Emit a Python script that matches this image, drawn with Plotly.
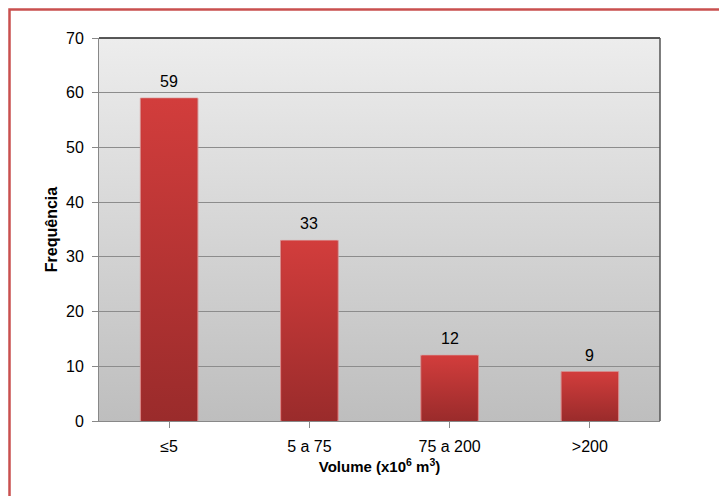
import plotly.graph_objects as go
import base64

categories = ["≤5", "5 a 75", "75 a 200", ">200"]
frequencies = [59, 33, 12, 9]
y_ticks = [0, 10, 20, 30, 40, 50, 60, 70]

BAR_WIDTH = 0.41
FONT = "Liberation Sans, Arial, sans-serif"

def grad_uri(top, bottom):
    svg = (
        '<svg xmlns="http://www.w3.org/2000/svg" width="10" height="100" preserveAspectRatio="none">'
        '<defs><linearGradient id="g" x1="0" y1="0" x2="0" y2="1">'
        f'<stop offset="0" stop-color="{top}"/><stop offset="1" stop-color="{bottom}"/>'
        '</linearGradient></defs><rect width="10" height="100" fill="url(#g)"/></svg>'
    )
    return "data:image/svg+xml;base64," + base64.b64encode(svg.encode()).decode()

bg_img = grad_uri("#EDEDED", "#BEBEBE")
bar_img = grad_uri("#D23D3C", "#9A2B2B")

xpos = list(range(len(categories)))

# figure is placed at an 8px page offset by the browser; size chosen to fill the window
W, H = 719, 488
L, R, T, B = 91, 67, 30, 75
PW, PH = W - L - R, H - T - B

fig = go.Figure()
fig.add_trace(go.Bar(
    x=xpos, y=frequencies, width=BAR_WIDTH,
    marker=dict(color="#B83434", line=dict(color="#D98C8C", width=1)),
    hoverinfo="x+y",
))

annotations = [
    dict(x=xi, y=v, xref="x", yref="y", text=str(v), showarrow=False,
         yanchor="bottom", yshift=6, font=dict(family=FONT, size=16, color="#000000"))
    for xi, v in zip(xpos, frequencies)
]

images = [dict(source=bg_img, xref="x domain", yref="y domain", x=0, y=1,
               sizex=1, sizey=1, sizing="stretch", xanchor="left", yanchor="top",
               layer="below")]
for xi, v in zip(xpos, frequencies):
    images.append(dict(source=bar_img, xref="x", yref="y", x=xi, y=0,
                       sizex=BAR_WIDTH - 0.01, sizey=v, sizing="stretch",
                       xanchor="center", yanchor="bottom", layer="above"))

fig.update_layout(
    width=W, height=H,
    margin=dict(l=L, r=R, t=T, b=B),
    paper_bgcolor="white",
    plot_bgcolor="rgba(0,0,0,0)",
    showlegend=False,
    font=dict(family=FONT, size=16, color="#000000"),
    images=images,
    annotations=annotations,
    xaxis=dict(
        range=[-0.5, 3.5],
        tickmode="array", tickvals=xpos, ticktext=categories,
        tickson="boundaries",
        showgrid=False, zeroline=False,
        showline=True, linecolor="#888888", linewidth=1,
        ticks="outside", ticklen=6, tickcolor="#888888",
        tickfont=dict(size=16),
        ticklabelstandoff=5,
        title=dict(text="<b>Volume (x10<sup>6</sup> m<sup>3</sup>)</b>",
                   font=dict(size=15), standoff=7),
    ),
    yaxis=dict(
        range=[0, 70], tickvals=y_ticks,
        showgrid=True, gridcolor="#8C8C8C", gridwidth=1,
        zeroline=False,
        showline=True, linecolor="#888888", linewidth=1,
        ticks="outside", ticklen=6, tickcolor="#888888",
        tickfont=dict(size=16),
        ticklabelstandoff=5,
        title=dict(text="<b>Frequência</b>", font=dict(size=16), standoff=4),
    ),
    shapes=[
        dict(type="line", xref="x domain", yref="y domain", x0=0, x1=1, y0=1, y1=1,
             line=dict(color="#222222", width=1.5)),
        dict(type="line", xref="x domain", yref="y domain", x0=1, x1=1, y0=0, y1=1,
             line=dict(color="#555555", width=1.5)),
        dict(type="rect", xref="paper", yref="paper",
             x0=(1.5 - L) / PW, x1=(717 - L) / PW,
             y0=(PH - (H + 8 - T)) / PH, y1=(PH - (1.5 - T)) / PH,
             line=dict(color="#C9504F", width=2.5), fillcolor="rgba(0,0,0,0)"),
    ],
)

fig.write_html("out.html")
